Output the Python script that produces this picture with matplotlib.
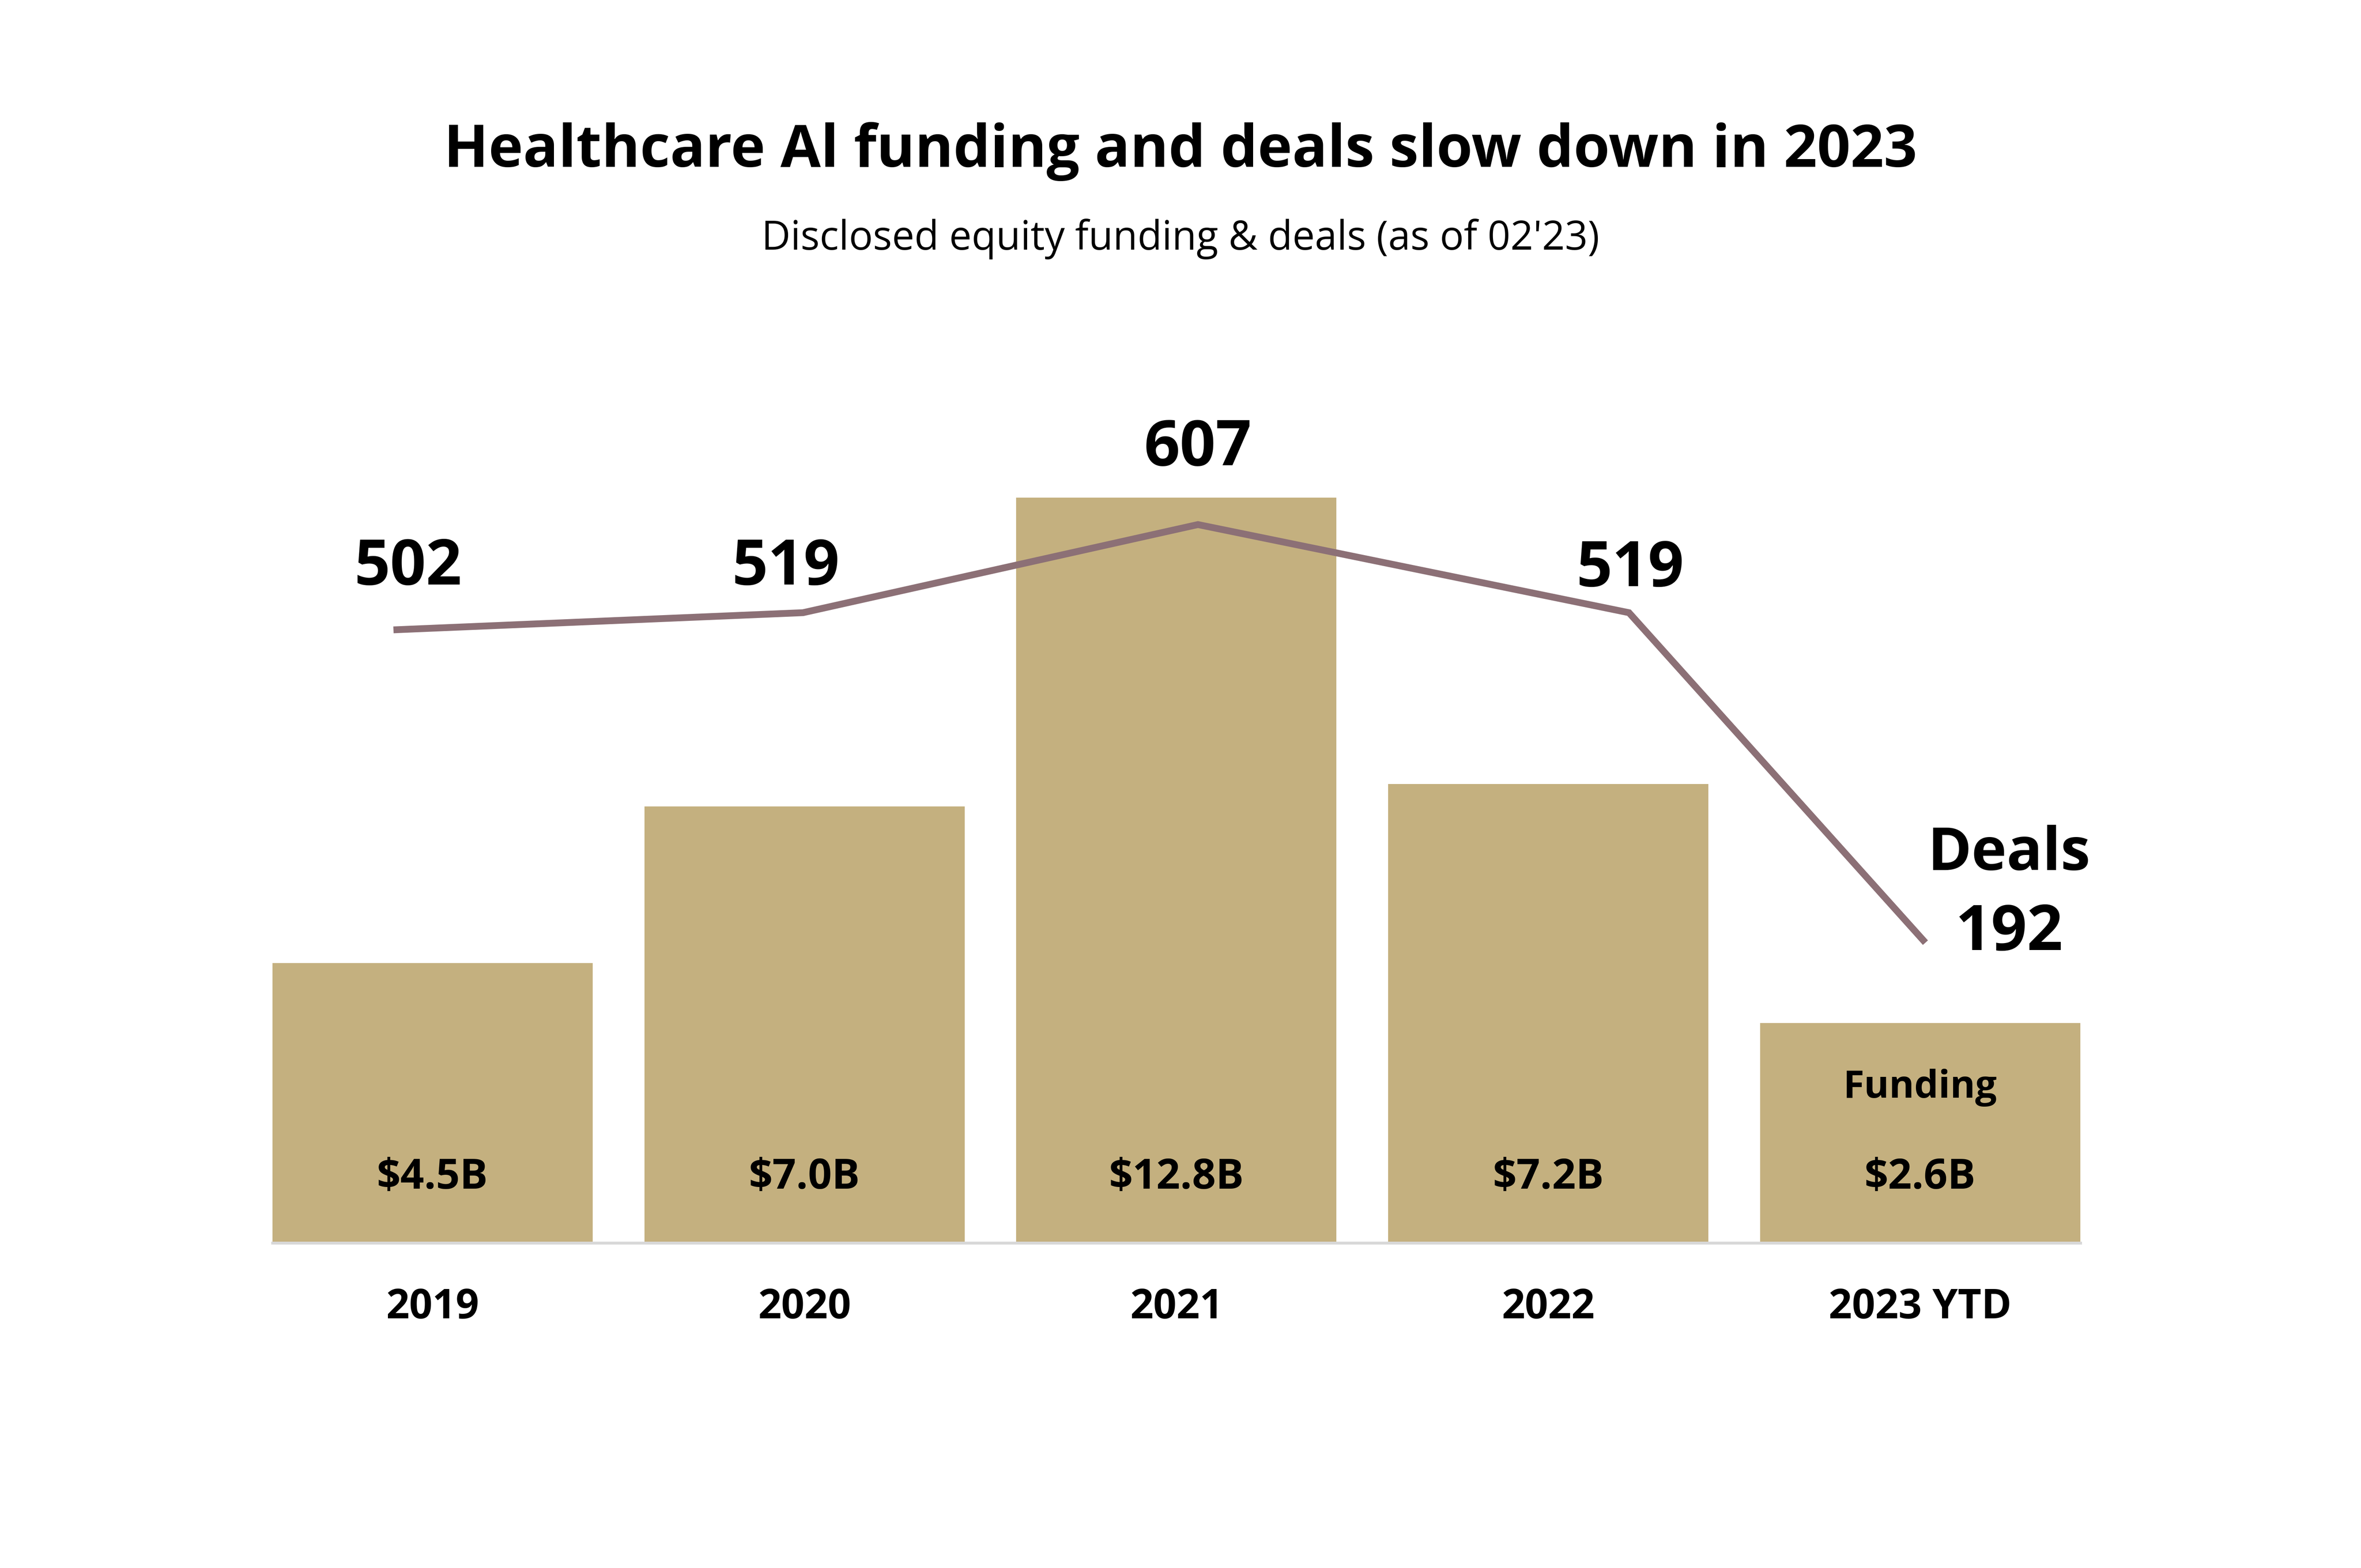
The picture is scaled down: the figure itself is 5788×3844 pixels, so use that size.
import matplotlib
matplotlib.use("Agg")
import matplotlib.pyplot as plt

# data
years = ["2019", "2020", "2021", "2022", "2023 YTD"]
funding_labels = ["$4.5B", "$7.0B", "$12.8B", "$7.2B", "$2.6B"]
# bar heights as drawn in the picture ($B scale, not strictly proportional to labels)
funding_bar = [4.81, 7.50, 12.8, 7.88, 3.78]
deals = [502, 519, 607, 519, 192]

# layout
deal_x_shift = [-0.096, -0.004, 0.058, 0.217, 0.008]
deal_label_offset = [(6.7, 26.6), (-10, 16.6), (0, 34.8), (0.7, 15.6), (50.6, -5.8)]

bar_color = "#c4b07f"
line_color = "#8c7076"
font = "Open Sans"

plt.rcParams["font.family"] = [font, "DejaVu Sans"]

fig = plt.figure(figsize=(5788 / 300, 3844 / 300), dpi=300)
ax = fig.add_axes([0.1154, 0.2073, 0.7657, 0.5065])
ax2 = ax.twinx()

x = list(range(len(years)))
ax.bar(x, funding_bar, width=0.861, color=bar_color, zorder=2)
ax.set_xlim(-0.4305, len(years) - 1 + 0.4305)
ax.set_ylim(0, 13.64)

for s in ["top", "left", "right"]:
    ax.spines[s].set_visible(False)
    ax2.spines[s].set_visible(False)
ax2.spines["bottom"].set_visible(False)
ax.spines["bottom"].set_color("#d8d8d8")
ax.spines["bottom"].set_linewidth(1.7)
ax.set_yticks([])
ax2.set_yticks([])
ax.set_xticks(x)
ax.set_xticklabels(years, fontsize=24, fontweight="bold")
ax.tick_params(axis="x", length=0, pad=26)

for i, lab in enumerate(funding_labels):
    ax.annotate(lab, xy=(i, 0), xytext=(0, 32), textcoords="offset points",
                ha="center", va="baseline", fontsize=24.5, fontweight="bold")
ax.annotate("Funding", xy=(4, 0), xytext=(0, 85.4), textcoords="offset points",
            ha="center", va="baseline", fontsize=22.5, fontweight="bold")

# deals line on a second scale
dx = [i + s for i, s in zip(x, deal_x_shift)]
ax2.plot(dx, deals, color=line_color, lw=4.0, solid_joinstyle="miter", zorder=3)
ax2.set_ylim(-110.4, 682.7)
ax2.set_xlim(ax.get_xlim())

for i, d in enumerate(deals):
    ox, oy = deal_label_offset[i]
    ax2.annotate(str(d), xy=(dx[i], d), xytext=(ox, oy), textcoords="offset points",
                 ha="center", va="baseline", fontsize=37, fontweight="bold")
ax2.annotate("Deals", xy=(dx[-1], deals[-1]), xytext=(50.6, 41.3), textcoords="offset points",
             ha="center", va="baseline", fontsize=35, fontweight="bold")

fig.text(0.5, 0.8936, "Healthcare Al funding and deals slow down in 2023",
         ha="center", va="baseline", fontsize=34.4, fontweight="bold")
fig.text(0.5, 0.8407, "Disclosed equity funding & deals (as of 02'23)",
         ha="center", va="baseline", fontsize=23.5)

fig.savefig("out.png", dpi=300, facecolor="white")
